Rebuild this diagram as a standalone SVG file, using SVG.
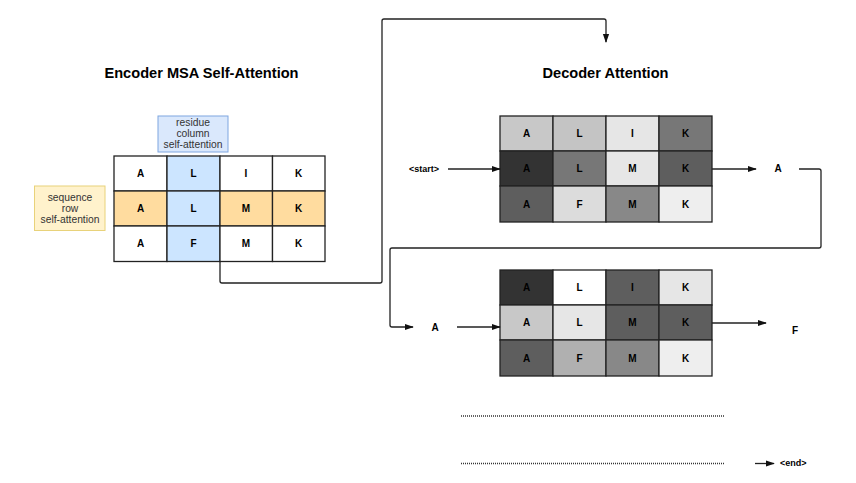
<svg xmlns="http://www.w3.org/2000/svg" width="856" height="483" viewBox="0 0 856 483">
<style>
  text { font-family: "Liberation Sans", Arial, sans-serif; fill: #000; }
  .title { font-size: 14.6px; font-weight: bold; text-anchor: middle; }
  .cell text { font-size: 10px; font-weight: bold; text-anchor: middle; dominant-baseline: central; }
  .cell rect { stroke: #222; stroke-width: 1.3; }
  .lbl { font-size: 10.3px; text-anchor: middle; fill: #333; }
  .conn { fill: none; stroke: #222; stroke-width: 1.3; }
  .dots { fill: none; stroke: #333; stroke-width: 1.3; stroke-dasharray: 1 1; }
  .small { font-size: 9px; font-weight: bold; }
  .tok { font-size: 10px; font-weight: bold; text-anchor: middle; }
</style>
<defs>
  <marker id="arr" viewBox="0 0 10 10" refX="9" refY="5" markerWidth="9" markerHeight="9" markerUnits="userSpaceOnUse" orient="auto">
    <path d="M0,1.5 L10,5 L0,8.5 Z" fill="#111"/>
  </marker>
</defs>
<rect width="856" height="483" fill="#fff"/>

<text class="title" x="201.5" y="78">Encoder MSA Self-Attention</text>
<text class="title" x="605.5" y="78">Decoder Attention</text>

<g id="residue-label">
  <rect x="158" y="116" width="70" height="36" fill="#dae8fc" stroke="#7ea6e0" stroke-width="1"/>
  <text class="lbl" x="193" y="126">residue</text>
  <text class="lbl" x="193" y="137">column</text>
  <text class="lbl" x="193" y="148">self-attention</text>
</g>
<g id="sequence-label">
  <rect x="34.5" y="186" width="70.5" height="44.5" fill="#fff2cc" stroke="#e8d27a" stroke-width="1"/>
  <text class="lbl" x="70" y="201">sequence</text>
  <text class="lbl" x="70" y="212">row</text>
  <text class="lbl" x="70" y="223">self-attention</text>
</g>

<g id="encoder-grid" class="cell">
  <rect x="114" y="156" width="53" height="35" fill="#fff"/><text x="140.5" y="173.5">A</text>
  <rect x="167" y="156" width="53" height="35" fill="#cce5ff"/><text x="193.5" y="173.5">L</text>
  <rect x="220" y="156" width="52.5" height="35" fill="#fff"/><text x="246" y="173.5">I</text>
  <rect x="272.5" y="156" width="52.5" height="35" fill="#fff"/><text x="298.5" y="173.5">K</text>
  <rect x="114" y="191" width="53" height="35" fill="#ffdc9f"/><text x="140.5" y="208.5">A</text>
  <rect x="167" y="191" width="53" height="35" fill="#cce5ff"/><text x="193.5" y="208.5">L</text>
  <rect x="220" y="191" width="52.5" height="35" fill="#ffdc9f"/><text x="246" y="208.5">M</text>
  <rect x="272.5" y="191" width="52.5" height="35" fill="#ffdc9f"/><text x="298.5" y="208.5">K</text>
  <rect x="114" y="226" width="53" height="35.5" fill="#fff"/><text x="140.5" y="243.5">A</text>
  <rect x="167" y="226" width="53" height="35.5" fill="#cce5ff"/><text x="193.5" y="243.5">F</text>
  <rect x="220" y="226" width="52.5" height="35.5" fill="#fff"/><text x="246" y="243.5">M</text>
  <rect x="272.5" y="226" width="52.5" height="35.5" fill="#fff"/><text x="298.5" y="243.5">K</text>
</g>

<g id="decoder-grid-1" class="cell">
  <rect x="500" y="116" width="53" height="35" fill="#c8c8c8"/><text x="526.5" y="133.5">A</text>
  <rect x="553" y="116" width="53" height="35" fill="#c4c4c4"/><text x="579.5" y="133.5">L</text>
  <rect x="606" y="116" width="53" height="35" fill="#e6e6e6"/><text x="632.5" y="133.5">I</text>
  <rect x="659" y="116" width="53" height="35" fill="#777777"/><text x="685.5" y="133.5">K</text>
  <rect x="500" y="151" width="53" height="35" fill="#333333"/><text x="526.5" y="168.5">A</text>
  <rect x="553" y="151" width="53" height="35" fill="#777777"/><text x="579.5" y="168.5">L</text>
  <rect x="606" y="151" width="53" height="35" fill="#e6e6e6"/><text x="632.5" y="168.5">M</text>
  <rect x="659" y="151" width="53" height="35" fill="#5e5e5e"/><text x="685.5" y="168.5">K</text>
  <rect x="500" y="186" width="53" height="36" fill="#5e5e5e"/><text x="526.5" y="204">A</text>
  <rect x="553" y="186" width="53" height="36" fill="#dcdcdc"/><text x="579.5" y="204">F</text>
  <rect x="606" y="186" width="53" height="36" fill="#888888"/><text x="632.5" y="204">M</text>
  <rect x="659" y="186" width="53" height="36" fill="#eeeeee"/><text x="685.5" y="204">K</text>
</g>

<g id="decoder-grid-2" class="cell">
  <rect x="500" y="270" width="53" height="35" fill="#333333"/><text x="526.5" y="287.5">A</text>
  <rect x="553" y="270" width="53" height="35" fill="#ffffff"/><text x="579.5" y="287.5">L</text>
  <rect x="606" y="270" width="53" height="35" fill="#5e5e5e"/><text x="632.5" y="287.5">I</text>
  <rect x="659" y="270" width="53" height="35" fill="#e6e6e6"/><text x="685.5" y="287.5">K</text>
  <rect x="500" y="305" width="53" height="35" fill="#c8c8c8"/><text x="526.5" y="322.5">A</text>
  <rect x="553" y="305" width="53" height="35" fill="#e6e6e6"/><text x="579.5" y="322.5">L</text>
  <rect x="606" y="305" width="53" height="35" fill="#5e5e5e"/><text x="632.5" y="322.5">M</text>
  <rect x="659" y="305" width="53" height="35" fill="#5e5e5e"/><text x="685.5" y="322.5">K</text>
  <rect x="500" y="340" width="53" height="36" fill="#5e5e5e"/><text x="526.5" y="358">A</text>
  <rect x="553" y="340" width="53" height="36" fill="#b0b0b0"/><text x="579.5" y="358">F</text>
  <rect x="606" y="340" width="53" height="36" fill="#888888"/><text x="632.5" y="358">M</text>
  <rect x="659" y="340" width="53" height="36" fill="#eeeeee"/><text x="685.5" y="358">K</text>
</g>

<g id="tokens">
  <text class="small" x="409" y="172">&lt;start&gt;</text>
  <text class="tok" x="778" y="172">A</text>
  <text class="tok" x="435" y="330.5">A</text>
  <text class="tok" x="795" y="333.5">F</text>
  <text class="small" x="780" y="466">&lt;end&gt;</text>
</g>

<g id="connectors">
  <path class="conn" d="M220,261.5 V281 Q220,283 222,283 H380 Q382,283 382,281 V21 Q382,19 384,19 H604 Q606,19 606,21 V42" marker-end="url(#arr)"/>
  <path class="conn" d="M448,169 H500" marker-end="url(#arr)"/>
  <path class="conn" d="M712,169 H756" marker-end="url(#arr)"/>
  <path class="conn" d="M799,169 H819 Q821,169 821,171 V246 Q821,248 819,248 H392 Q390,248 390,250 V325 Q390,327 392,327 H413" marker-end="url(#arr)"/>
  <path class="conn" d="M457,327 H500" marker-end="url(#arr)"/>
  <path class="conn" d="M712,323 H766" marker-end="url(#arr)"/>
  <path class="conn" d="M755,463.5 H774" marker-end="url(#arr)"/>
  <path class="dots" d="M461,416 H724"/>
  <path class="dots" d="M461,463.5 H724"/>
</g>
</svg>
